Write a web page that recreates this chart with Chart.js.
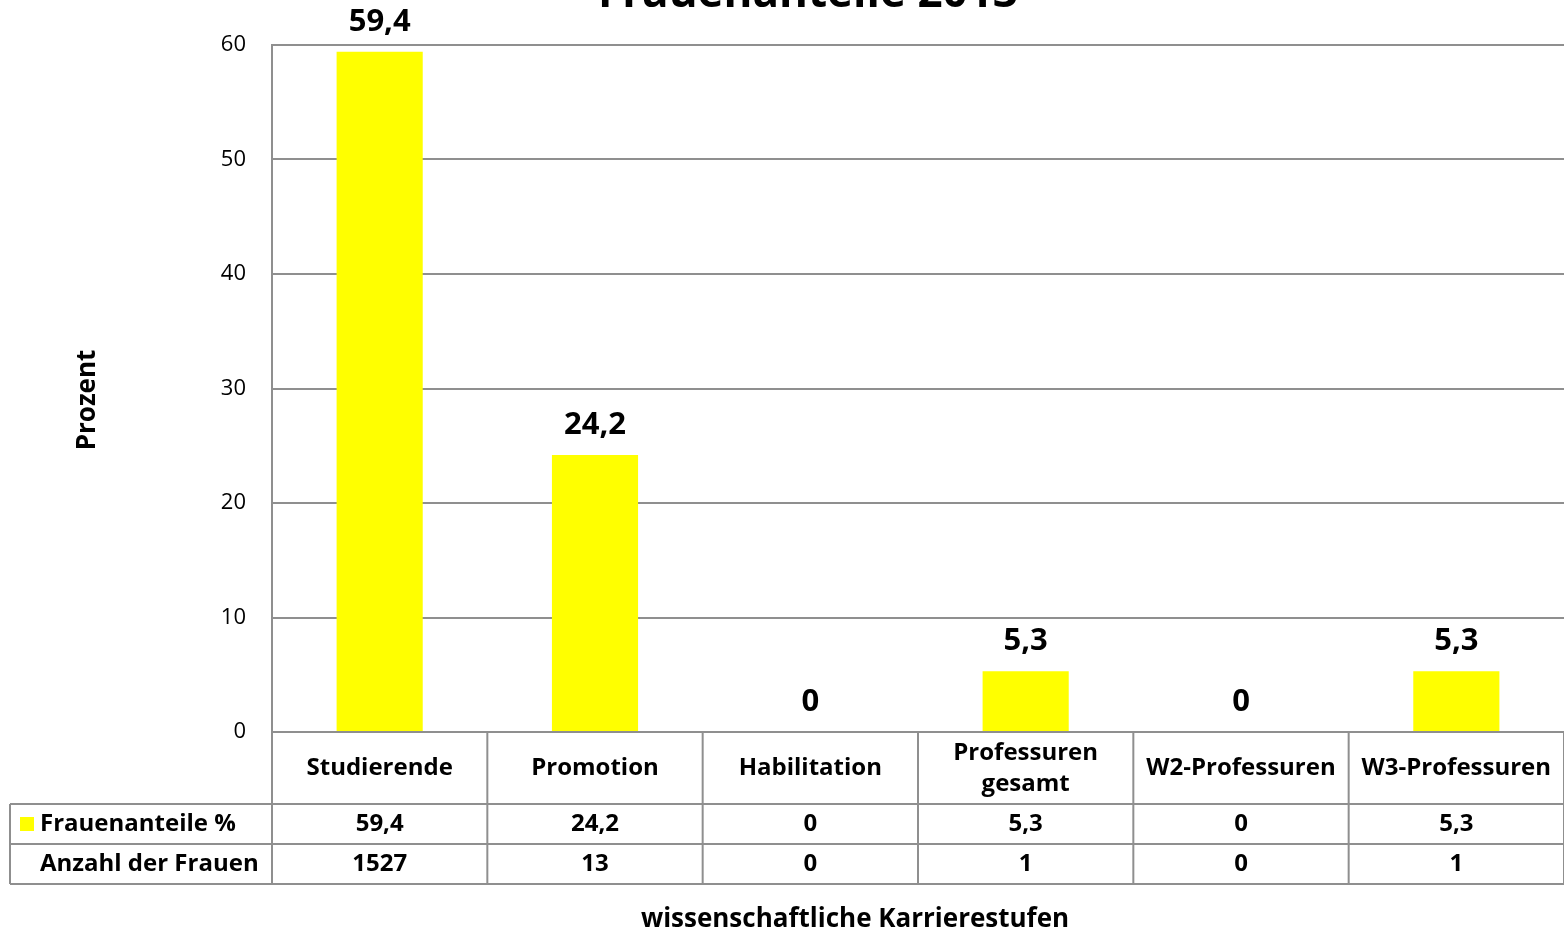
<!DOCTYPE html>
<html>
<head>
<meta charset="utf-8">
<script src="https://cdn.jsdelivr.net/npm/chart.js@4"></script>
<style>
    html, body { margin: 0; padding: 0; background: #ffffff; }
    #wrap { width: 1564px; height: 933px; }
</style>
</head>
<body>
<div id="wrap"><canvas id="chart" width="1564" height="933"></canvas></div>
<script>
// Chart values
const chartTitle = "Frauenanteile 2013";
const categories = ["Studierende", "Promotion", "Habilitation", ["Professuren", "gesamt"], "W2-Professuren", "W3-Professuren"];
const frauenanteile = [59.4, 24.2, 0, 5.3, 0, 5.3];
const anzahlFrauen = [1527, 13, 0, 1, 0, 1];
const yTicks = [0, 10, 20, 30, 40, 50, 60];
const rowLabels = ["Frauenanteile %", "Anzahl der Frauen"];
const yTitle = "Prozent";
const xTitle = "wissenschaftliche Karrierestufen";

const FONT = "'Open Sans', 'DejaVu Sans', sans-serif";
const GRID = "#8f8f8f";
const BAR = "#ffff00";

function fmt(v){
    return String(v).replace(".", ",");
}

// Data labels, the data table under the plot, axis titles and the cut-off title
const tablePlugin = {
    id: "tablePlugin",
    afterDatasetsDraw(chart){
        const ctx = chart.ctx;
        const xs = chart.scales.x;
        const ys = chart.scales.y;
        const area = chart.chartArea;
        const n = categories.length;
        const catW = (area.right - area.left) / n;

        ctx.save();

        /* value labels over the bars */
        ctx.fillStyle = "#000";
        ctx.textAlign = "center";
        ctx.textBaseline = "middle";
        ctx.font = "bold 31px " + FONT;
        for(let i = 0; i < n; i++){
            const x = xs.getPixelForValue(i);
            const y = ys.getPixelForValue(frauenanteile[i]);
            ctx.fillText(fmt(frauenanteile[i]), x, y - 30);
        }

        /* table grid */
        const top = area.bottom;
        const r1 = top + 72;
        const r2 = r1 + 40;
        const r3 = r2 + 40;
        const leftT = 10;

        ctx.strokeStyle = GRID;
        ctx.lineWidth = 2;
        ctx.beginPath();
        ctx.moveTo(area.left, top); ctx.lineTo(area.right, top);
        ctx.moveTo(leftT, r1); ctx.lineTo(area.right, r1);
        ctx.moveTo(leftT, r2); ctx.lineTo(area.right, r2);
        ctx.moveTo(leftT, r3); ctx.lineTo(area.right, r3);
        ctx.moveTo(leftT, r1); ctx.lineTo(leftT, r3);
        for(let i = 0; i <= n; i++){
            const x = area.left + i * catW;
            ctx.moveTo(x, top); ctx.lineTo(x, r3);
        }
        ctx.stroke();

        /* header cells and values */
        ctx.font = "bold 24px " + FONT;
        ctx.fillStyle = "#000";
        for(let i = 0; i < n; i++){
            const x = xs.getPixelForValue(i);
            const lab = categories[i];
            if(Array.isArray(lab)){
                ctx.fillText(lab[0], x, (top + r1) / 2 - 15);
                ctx.fillText(lab[1], x, (top + r1) / 2 + 16);
            } else {
                ctx.fillText(lab, x, (top + r1) / 2);
            }
            ctx.fillText(fmt(frauenanteile[i]), x, (r1 + r2) / 2);
            ctx.fillText(String(anzahlFrauen[i]), x, (r2 + r3) / 2);
        }

        /* row labels and legend key */
        ctx.textAlign = "left";
        ctx.fillText(rowLabels[0], 40, (r1 + r2) / 2);
        ctx.fillText(rowLabels[1], 40, (r2 + r3) / 2);
        ctx.fillStyle = BAR;
        ctx.fillRect(20, (r1 + r2) / 2 - 7, 14, 14);

        /* axis titles */
        ctx.fillStyle = "#000";
        ctx.textAlign = "center";
        ctx.font = "bold 26px " + FONT;
        ctx.fillText(xTitle, 855, 920);

        ctx.save();
        ctx.translate(88, 400);
        ctx.rotate(-Math.PI / 2);
        ctx.fillText(yTitle, 0, 0);
        ctx.restore();

        /* chart title, only its lower part is inside the picture */
        ctx.font = "bold 44px " + FONT;
        ctx.textBaseline = "alphabetic";
        ctx.fillText(chartTitle, 808, 7);

        ctx.restore();
    }
};

const ctx = document.getElementById("chart").getContext("2d");

new Chart(ctx, {
    type: "bar",
    data: {
        labels: categories.map(c => Array.isArray(c) ? c.join(" ") : c),
        datasets: [{
            label: rowLabels[0],
            data: frauenanteile,
            backgroundColor: BAR,
            borderWidth: 0,
            barPercentage: 0.4,
            categoryPercentage: 1.0
        }]
    },
    options: {
        responsive: false,
        animation: false,
        layout: {
            padding: { top: 45, bottom: 201, left: 0, right: 0 }
        },
        plugins: {
            legend: { display: false },
            tooltip: { enabled: false },
            title: { display: false }
        },
        scales: {
            x: {
                display: false
            },
            y: {
                min: 0,
                max: 60,
                afterBuildTicks: (scale) => {
                    scale.ticks = yTicks.map(v => ({ value: v }));
                },
                afterFit: (scale) => {
                    scale.width = 272;
                },
                ticks: {
                    color: "#000",
                    padding: 26,
                    font: { family: FONT, size: 22 }
                },
                grid: {
                    color: GRID,
                    lineWidth: 2,
                    drawTicks: false
                },
                border: {
                    color: GRID,
                    width: 2
                }
            }
        }
    },
    plugins: [tablePlugin]
});
</script>
</body>
</html>
